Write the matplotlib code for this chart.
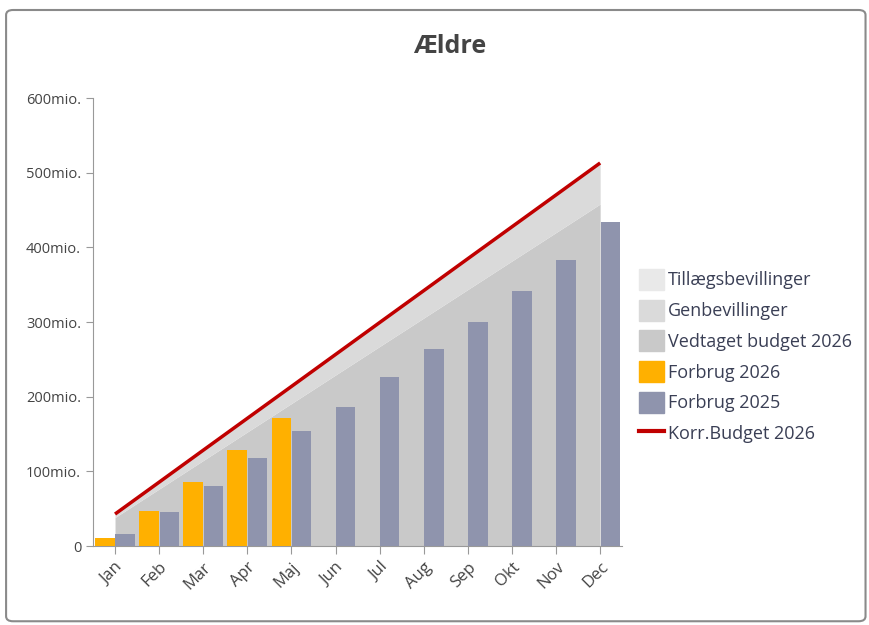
import numpy as np
import matplotlib.pyplot as plt
from matplotlib.patches import FancyBboxPatch, Patch
from matplotlib.lines import Line2D

plt.rcParams['font.family'] = ['Open Sans', 'DejaVu Sans']

months = ["Jan", "Feb", "Mar", "Apr", "Maj", "Jun", "Jul", "Aug", "Sep", "Okt", "Nov", "Dec"]

# cumulative values in mio. kr
vedtaget_2026 = [38.2, 76.3, 114.5, 152.7, 190.8, 229.0, 267.2, 305.3, 343.5, 381.7, 419.8, 458.0]
genbevillinger = [4.6, 9.2, 13.8, 18.3, 22.9, 27.5, 32.1, 36.7, 41.3, 45.8, 50.4, 55.0]
tillaeg = [0, 0, 0, 0, 0, 0, 0, 0, 0, 0, 0, 0]
forbrug_2026 = [11, 47, 86, 129, 172]
forbrug_2025 = [16, 46, 81, 118, 154, 186, 226, 264, 300, 342, 383, 434]

x = np.arange(len(months))
ved = np.array(vedtaget_2026)
gen = ved + np.array(genbevillinger)
til = gen + np.array(tillaeg)

fig = plt.figure(figsize=(8.69, 6.25), dpi=100)
ax = fig.add_axes([0.107, 0.1264, 0.609, 0.7168])

# frame around the widget
fig.patches.append(FancyBboxPatch((0.007, 0.006), 0.989, 0.978, boxstyle="round,pad=0,rounding_size=0.008",
                                  transform=fig.transFigure, fill=False, edgecolor="#8a8a8a", linewidth=1.5))

ax.fill_between(x, 0, ved, color="#c9c9c9", linewidth=0, zorder=1)
ax.fill_between(x, ved, gen, color="#dadada", linewidth=0, zorder=1)
ax.fill_between(x, gen, til, color="#e9e9e9", linewidth=0, zorder=1)
ax.plot(x, til, color="#c00000", linewidth=2.5, zorder=4, solid_capstyle="butt")

w = 0.44
ax.bar(x[:len(forbrug_2026)] - w / 2 - 0.01, forbrug_2026, width=w, color="#ffb000", zorder=3)
ax.bar(x + w / 2 + 0.01, forbrug_2025, width=w, color="#8f94ad", zorder=3)

ax.set_xlim(-0.5, 11.5)
ax.set_ylim(0, 600)
ax.set_yticks([0, 100, 200, 300, 400, 500, 600])
ax.set_yticklabels(["0", "100mio.", "200mio.", "300mio.", "400mio.", "500mio.", "600mio."])
ax.set_xticks(x)
ax.set_xticklabels(months, rotation=45, ha="right", rotation_mode="anchor")

for s in ["top", "right"]:
    ax.spines[s].set_visible(False)
ax.spines["left"].set_color("#999999")
ax.spines["bottom"].set_color("#999999")
ax.tick_params(axis="y", colors="#999999", labelcolor="#444444", labelsize=10.5, length=5)
ax.tick_params(axis="x", colors="#999999", labelcolor="#444444", labelsize=12, length=6)

fig.text(0.517, 0.926, "Ældre", ha="center", va="center",
         fontsize=18, fontweight="bold", color="#444444")

handles = [
    Patch(color="#e9e9e9"),
    Patch(color="#dadada"),
    Patch(color="#c9c9c9"),
    Patch(color="#ffb000"),
    Patch(color="#8f94ad"),
    Line2D([0], [0], color="#c00000", linewidth=3),
]
labels = ["Tillægsbevillinger", "Genbevillinger", "Vedtaget budget 2026", "Forbrug 2026", "Forbrug 2025", "Korr.Budget 2026"]
fig.legend(handles, labels, loc="center left", bbox_to_anchor=(0.735, 0.43), frameon=False,
           fontsize=13, labelcolor="#3a3f55", handlelength=1.4, handleheight=1.4,
           handletextpad=0.2, labelspacing=0.55, borderpad=0, borderaxespad=0)

fig.savefig("out.png", dpi=100)
